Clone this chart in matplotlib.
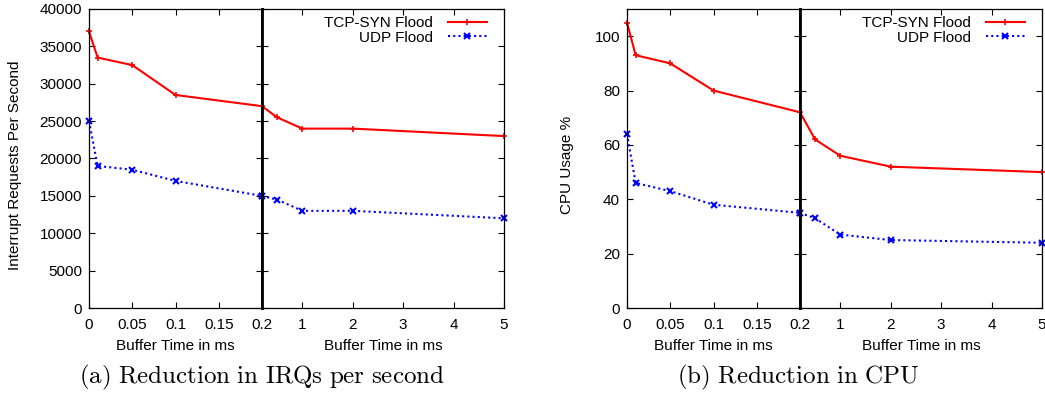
import matplotlib
matplotlib.use("Agg")
import matplotlib.pyplot as plt

plt.rcParams['font.family'] = ['Liberation Sans', 'DejaVu Sans']
plt.rcParams['mathtext.fontset'] = 'cm'

# Data
x_left = [0, 0.01, 0.05, 0.1, 0.2]
x_right = [0.2, 0.5, 1, 2, 5]

irq_tcp_left = [37000, 33500, 32500, 28500, 27000]
irq_tcp_right = [27000, 25500, 24000, 24000, 23000]
irq_udp_left = [25000, 19000, 18500, 17000, 15000]
irq_udp_right = [15000, 14500, 13000, 13000, 12000]

cpu_tcp_left = [105, 93, 90, 80, 72]
cpu_tcp_right = [72, 62, 56, 52, 50]
cpu_udp_left = [64, 46, 43, 38, 35]
cpu_udp_right = [35, 33, 27, 25, 24]

left_ticks = [0, 0.05, 0.1, 0.15, 0.2]
left_ticklabels = ['0', '0.05', '0.1', '0.15', '0.2']
right_ticks = [0.2, 1, 2, 3, 4, 5]
right_ticklabels = ['', '1', '2', '3', '4', '5']

irq_yticks = [0, 5000, 10000, 15000, 20000, 25000, 30000, 35000, 40000]
cpu_yticks = [0, 20, 40, 60, 80, 100]

series_labels = ['TCP-SYN Flood', 'UDP Flood']
captions = [r'$\mathrm{(a)\ Reduction\ in\ IRQs\ per\ second}$',
            r'$\mathrm{(b)\ Reduction\ in\ CPU}$']
ylabels = ['Interrupt Requests Per Second', 'CPU Usage %']
xlabel = 'Buffer Time in ms'

W, H = 1045, 398
fig = plt.figure(figsize=(W / 100, H / 100), dpi=100)

def frac(x0, x1):
    return x0 / W, (x1 - x0) / W

top_px, bot_px = 9, 308
ay = 1 - bot_px / H
ah = (bot_px - top_px) / H

FS = 11
tcp_style = dict(color='#ff0000', lw=1.5, marker='+', ms=5, mew=1.2)
udp_style = dict(color='#0000ff', lw=1.5, ls=(0, (1, 1.5)), marker='x', ms=4, mew=1.5)

def make_panel(xl0, xmid, xr1, tl, tr, ul, ur, yticks, ylim, ylab, ylabx):
    lx, lw = frac(xl0, xmid)
    rx, rw = frac(xmid, xr1)
    ax1 = fig.add_axes([lx, ay, lw, ah])
    ax2 = fig.add_axes([rx, ay, rw, ah])
    ax1.plot(x_left, tl, **tcp_style)
    ax1.plot(x_left, ul, **udp_style)
    ax2.plot(x_right, tr, label=series_labels[0], **tcp_style)
    ax2.plot(x_right, ur, label=series_labels[1], **udp_style)
    ax1.set_xlim(0, 0.2)
    ax2.set_xlim(0.2, 5)
    for ax in (ax1, ax2):
        ax.set_ylim(*ylim)
        ax.set_yticks(yticks)
        ax.tick_params(direction='in', top=True, right=True, length=4,
                       width=0.8, labelsize=FS, pad=5, colors='black')
        ax.tick_params(axis='x', pad=7)
        for sp in ax.spines.values():
            sp.set_linewidth(0.9)
        ax.set_xlabel(xlabel, fontsize=FS, labelpad=5)
        for m in ax.lines:
            m.set_clip_on(False)
    ax1.set_xticks(left_ticks)
    ax1.set_xticklabels(left_ticklabels)
    ax2.set_xticks(right_ticks)
    ax2.set_xticklabels(right_ticklabels)
    ax2.tick_params(labelleft=False)
    ax1.spines['right'].set_linewidth(2)
    ax2.spines['left'].set_linewidth(2)
    ax1.set_ylabel(ylab, fontsize=FS)
    ax1.yaxis.set_label_coords(ylabx, 1 - 165 / H, transform=fig.transFigure)
    leg = ax2.legend(loc='upper right', bbox_to_anchor=(0.942, 0.987),
                     frameon=False, markerfirst=False,
                     fontsize=FS, handlelength=2.55, borderaxespad=0.0,
                     borderpad=0.2, labelspacing=0.05, handletextpad=1.0)
    for t in leg.get_texts():
        t.set_ha('right')
    return ax1, ax2

make_panel(89, 262, 504, irq_tcp_left, irq_tcp_right, irq_udp_left,
           irq_udp_right, irq_yticks, (0, 40000), ylabels[0], 22 / W)
make_panel(627, 800, 1042, cpu_tcp_left, cpu_tcp_right, cpu_udp_left,
           cpu_udp_right, cpu_yticks, (0, 110), ylabels[1], 574 / W)

fig.text(262 / W, 1 - 377 / H, captions[0], ha='center', va='center', fontsize=18)
fig.text(798 / W, 1 - 377 / H, captions[1], ha='center', va='center', fontsize=18)

fig.savefig('out.png', dpi=100)
